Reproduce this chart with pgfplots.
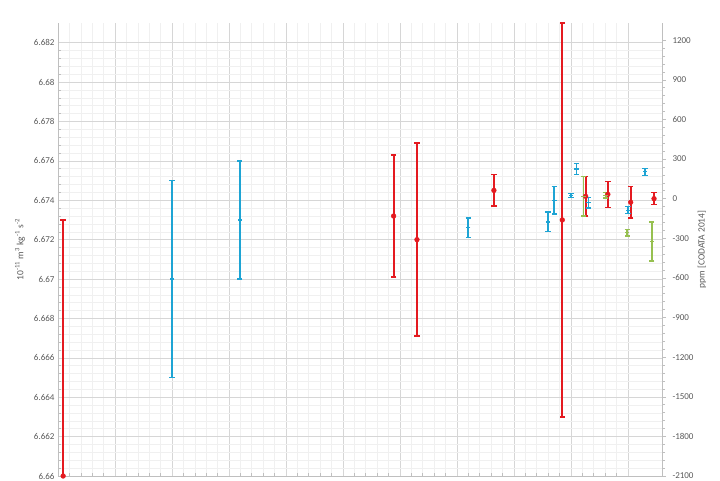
\documentclass[border=0pt]{standalone}
\usepackage{fontspec}
\setmainfont{Carlito}
\usepackage{pgfplots}
\usepackage{pgfplotstable}
\pgfplotsset{compat=1.18}
\definecolor{cred}{RGB}{228,26,32}
\definecolor{cblue}{RGB}{30,164,212}
\definecolor{cgreen}{RGB}{150,192,80}
\definecolor{tickgray}{RGB}{89,89,89}
\definecolor{gridmaj}{RGB}{214,214,214}
\definecolor{gridmin}{RGB}{240,240,240}
\definecolor{axisgray}{RGB}{191,191,191}

\pgfplotstableread{
x y e
1910.9 6.66000 0.01300
1968.9 6.67320 0.00310
1973.0 6.67200 0.00490
1986.5 6.67450 0.00080
1998.5 6.67300 0.01000
2002.6 6.67420 0.00100
2006.5 6.67430 0.00066
2010.5 6.67390 0.00080
2014.6 6.67408 0.00031
}\reddata

\pgfplotstableread{
x y e
1930.0 6.67000 0.00500
1941.9 6.67300 0.00300
1982.0 6.67260 0.00050
1996.0 6.67290 0.00050
1997.1 6.67400 0.00070
2000.0 6.67423 0.00010
2001.0 6.67559 0.00027
2003.1 6.67387 0.00027
2010.0 6.67349 0.00018
2013.0 6.67545 0.00018
}\bluedata

\pgfplotstableread{
x y e
2002.2 6.67420 0.00100
2006.1 6.67425 0.00014
2009.9 6.67235 0.00016
2014.2 6.67191 0.00099
}\greendata

\begin{document}
\begin{tikzpicture}
\begin{axis}[
  scale only axis, width=604pt, height=453pt,
  xmin=1910, xmax=2016, ymin=6.66, ymax=6.683,
  axis x line*=bottom, axis y line*=left,
  axis line style={axisgray, line width=0.6pt},
  xtick={1910,1920,1930,1940,1950,1960,1970,1980,1990,2000,2010},
  xticklabels={}, minor x tick num=4,
  ytick={6.66,6.662,6.664,6.666,6.668,6.67,6.672,6.674,6.676,6.678,6.68,6.682},
  minor y tick num=4,
  grid=both,
  major grid style={gridmaj, line width=0.6pt},
  minor grid style={gridmin, line width=0.5pt},
  tick style={axisgray, line width=0.5pt},
  major tick length=0pt, minor tick length=3pt,
  tick align=inside,
  scaled y ticks=false,
  yticklabel style={font=\fontsize{9}{10}\selectfont, text=tickgray,
    /pgf/number format/.cd, fixed, precision=3, assume math mode=true},
  every axis y label/.style={at={(rel axis cs:0,0.5)}, xshift=-38pt,
    rotate=90, anchor=center, font=\fontsize{9.5}{11}\selectfont, text=tickgray},
  ylabel={10\textsuperscript{-11} m\textsuperscript{3} kg\textsuperscript{-1} s\textsuperscript{-2}},
  clip=true,
]
\addplot[only marks, mark=*, draw=cred, fill=cred, mark size=2.4pt,
  mark options={fill=cred, draw=cred, solid},
  error bars/.cd, y dir=both, y explicit,
  error bar style={line width=2.1pt, draw=cred, solid},
  error mark options={rotate=90, mark size=2.7pt, line width=1.4pt, draw=cred}]
  table[x=x, y=y, y error=e]{\reddata};
\addplot[only marks, mark=-, draw=cblue, mark size=2.2pt,
  mark options={draw=cblue, line width=1.2pt, solid},
  error bars/.cd, y dir=both, y explicit,
  error bar style={line width=1.8pt, draw=cblue, solid},
  error mark options={rotate=90, mark size=2.7pt, line width=1.3pt, draw=cblue}]
  table[x=x, y=y, y error=e]{\bluedata};
\addplot[only marks, mark=-, draw=cgreen, mark size=2.2pt,
  mark options={draw=cgreen, line width=1.2pt, solid},
  error bars/.cd, y dir=both, y explicit,
  error bar style={line width=1.6pt, draw=cgreen, solid},
  error mark options={rotate=90, mark size=2.7pt, line width=1.2pt, draw=cgreen}]
  table[x=x, y=y, y error=e]{\greendata};
\end{axis}
\begin{axis}[
  scale only axis, width=604pt, height=453pt,
  xmin=0, xmax=1, ymin=-2100, ymax=1330,
  axis x line=none, axis y line*=right,
  axis line style={axisgray, line width=0.6pt},
  ytick={-2100,-1800,-1500,-1200,-900,-600,-300,0,300,600,900,1200},
  minor y tick num=4,
  tick style={axisgray, line width=0.5pt},
  major tick length=4pt, minor tick length=3pt,
  tick align=outside,
  scaled y ticks=false,
  yticklabel style={font=\fontsize{9}{10}\selectfont, text=tickgray, xshift=3pt,
    /pgf/number format/.cd, fixed, 1000 sep={}, assume math mode=true},
  every axis y label/.style={at={(rel axis cs:1,0.5)}, xshift=40pt,
    rotate=90, anchor=center, font=\fontsize{9.5}{11}\selectfont, text=tickgray},
  ylabel={ppm [CODATA 2014]},
]
\end{axis}
\pgfresetboundingbox
\path[use as bounding box] (-58pt,-4pt) rectangle (662pt,476pt);
\end{tikzpicture}
\end{document}
